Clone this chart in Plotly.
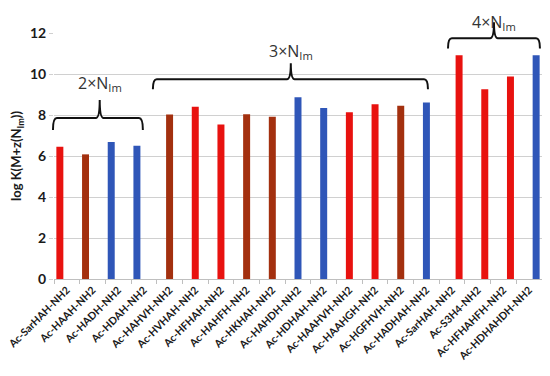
import plotly.graph_objects as go

labels = ["Ac-SarHAH-NH2", "Ac-HAAH-NH2", "Ac-HADH-NH2", "Ac-HDAH-NH2",
          "Ac-HAHVH-NH2", "Ac-HVHAH-NH2", "Ac-HFHAH-NH2", "Ac-HAHFH-NH2",
          "Ac-HKHAH-NH2", "Ac-HAHDH-NH2", "Ac-HDHAH-NH2", "Ac-HAAHVH-NH2",
          "Ac-HAAHGH-NH2", "Ac-HGFHVH-NH2", "Ac-HADHAH-NH2",
          "Ac-SarHAH-NH2", "Ac-S3H4-NH2", "Ac-HFHAHFH-NH2", "Ac-HDHAHDH-NH2"]
values = [6.45, 6.08, 6.68, 6.50,
          8.03, 8.40, 7.54, 8.04, 7.91, 8.86, 8.34, 8.14, 8.53, 8.45, 8.61,
          10.91, 9.26, 9.88, 10.91]
kinds = ["r", "b", "u", "u",
         "b", "r", "r", "b", "b", "u", "u", "r", "r", "b", "u",
         "r", "r", "r", "u"]
groups = [0, 0, 0, 0,
          1, 1, 1, 1, 1, 1, 1, 1, 1, 1, 1,
          2, 2, 2, 2]
group_names = ["2×N<sub>Im</sub>", "3×N<sub>Im</sub>", "4×N<sub>Im</sub>"]

palette = {"r": "#e8120f", "b": "#a3300f", "u": "#2f56b8"}

bw = 0.272
fig = go.Figure()
for g in range(3):
    idx = [i for i in range(len(labels)) if groups[i] == g]
    fig.add_trace(go.Bar(
        x=idx, y=[values[i] for i in idx],
        width=bw, offset=-bw / 2 + (g - 1) * bw,
        marker=dict(color=[palette[kinds[i]] for i in idx],
                    line=dict(width=0)),
        name=group_names[g], showlegend=False,
    ))

n = len(labels)
fig.update_layout(
    width=542, height=368,
    margin=dict(l=46, r=8, t=25, b=97, autoexpand=False),
    paper_bgcolor="white", plot_bgcolor="white",
    barmode="overlay",
    font=dict(family="Lato, Open Sans, sans-serif", color="#222"),
    xaxis=dict(
        range=[-0.5, n - 0.5], tickmode="array", automargin=False,
        tickvals=list(range(n)), ticktext=labels, tickangle=-45,
        ticklabeloverflow="allow",
        tickfont=dict(size=10.5, weight="bold", color="#1a1a1a"),
        ticks="", showgrid=False, zeroline=False,
        showline=True, linecolor="#bfbfbf", linewidth=1,
        minor=dict(tickvals=[i - 0.5 for i in range(n + 1)], ticks="outside",
                   ticklen=4, tickcolor="#bfbfbf", showgrid=False),
    ),
    yaxis=dict(
        range=[0, 12], tickvals=[0, 2, 4, 6, 8, 10, 12], automargin=False,
        tickfont=dict(size=14, weight="bold", color="#1a1a1a"),
        showgrid=True, gridcolor="#d0d0d0", gridwidth=1,
        zeroline=False, showline=False,
        ticks="outside", ticklen=4, tickcolor="#d0d0d0",
        title=dict(text="log K(M+z(N<sub>Im</sub>))",
                   font=dict(size=13, weight="bold", color="#1a1a1a"),
                   standoff=9),
    ),
)

# braces (data coordinates converted to plot-area paper fractions)
# (left, right, centre, end y, bar y, peak y, label y, label anchor)
braces = [(-0.54, 2.96, 1.28, 7.27, 7.85, 8.73, 9.56, "middle"),
          (3.35, 14.06, 8.72, 9.26, 9.75, 10.53, 11.1, "middle"),
          (14.84, 18.42, 16.63, 11.25, 11.74, 12.52, 13.18, "top")]

def px(x):
    return (x + 0.5) / n

def py(y):
    return y / 12.0

for g, (L, R, C, yE, yH, yP, yT, anc) in enumerate(braces):
    d = 0.15
    path = (f"M {px(L)},{py(yE)} Q {px(L)},{py(yH)} {px(L + d)},{py(yH)} "
            f"L {px(C - d)},{py(yH)} Q {px(C)},{py(yH)} {px(C)},{py(yP)} "
            f"Q {px(C)},{py(yH)} {px(C + d)},{py(yH)} "
            f"L {px(R - d)},{py(yH)} Q {px(R)},{py(yH)} {px(R)},{py(yE)}")
    fig.add_shape(type="path", path=path, xref="paper", yref="paper",
                  line=dict(color="#111", width=2))
    fig.add_annotation(x=px(C), y=py(yT), xref="paper", yref="paper",
                       xanchor="center", yanchor=anc,
                       text=group_names[g], showarrow=False,
                       font=dict(size=16, color="#333",
                                 family="Open Sans, sans-serif"))

fig.write_html("out.html")
